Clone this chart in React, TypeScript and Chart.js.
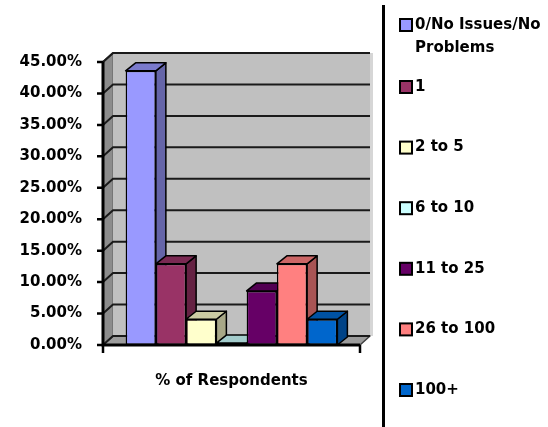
import React, { useEffect, useRef } from 'react';
import { Chart, registerables } from 'chart.js';

Chart.register(...registerables);

const categories = ['% of Respondents'];
const seriesNames = ['0/No Issues/No Problems', '1', '2 to 5', '6 to 10', '11 to 25', '26 to 100', '100+'];
const seriesValues = [43.6, 12.9, 4.1, 0.3, 8.6, 12.9, 4.1];
const seriesColors = ['#9999FF', '#993366', '#FFFFCC', '#CCFFFF', '#660066', '#FF8080', '#0066CC'];
const yTicks = [0, 5, 10, 15, 20, 25, 30, 35, 40, 45];

const FONT_FAMILY = '"DejaVu Sans", Verdana, sans-serif';
const BAR_DX = 10;
const BAR_DY = -8;
const WALL_DX = 10;
const WALL_DY = -9;

function shade(hex: string, f: number) {
  const n = parseInt(hex.slice(1), 16);
  const r = Math.round(((n >> 16) & 255) * f);
  const g = Math.round(((n >> 8) & 255) * f);
  const b = Math.round((n & 255) * f);
  return `rgb(${r},${g},${b})`;
}

function poly(ctx: CanvasRenderingContext2D, pts: number[][], fill: string | null, stroke: string | null, lw = 1) {
  ctx.beginPath();
  ctx.moveTo(pts[0][0], pts[0][1]);
  for (let i = 1; i < pts.length; i++) ctx.lineTo(pts[i][0], pts[i][1]);
  ctx.closePath();
  if (fill) {
    ctx.fillStyle = fill;
    ctx.fill();
  }
  if (stroke) {
    ctx.strokeStyle = stroke;
    ctx.lineWidth = lw;
    ctx.lineJoin = 'round';
    ctx.stroke();
  }
}

function wrapText(ctx: CanvasRenderingContext2D, text: string, maxW: number) {
  const words = text.split(' ');
  const lines: string[] = [];
  let cur = '';
  words.forEach((w) => {
    const test = cur ? cur + ' ' + w : w;
    if (ctx.measureText(test).width > maxW && cur) {
      lines.push(cur);
      cur = w;
    } else cur = test;
  });
  if (cur) lines.push(cur);
  return lines;
}

const threeD = {
  id: 'threeD',
  beforeDatasetsDraw(chart: any) {
    const { ctx, chartArea: a, scales } = chart;
    const y = scales.y;
    ctx.save();
    // side wall
    poly(ctx, [[a.left, a.bottom], [a.left, a.top], [a.left + WALL_DX, a.top + WALL_DY], [a.left + WALL_DX, a.bottom + WALL_DY]], '#8c8c8c', '#606060', 1);
    // back wall
    poly(ctx, [[a.left + WALL_DX, a.top + WALL_DY], [a.right + WALL_DX, a.top + WALL_DY], [a.right + WALL_DX, a.bottom + WALL_DY], [a.left + WALL_DX, a.bottom + WALL_DY]], '#c0c0c0', null);
    // right edge strip
    ctx.fillStyle = '#d6d6d6';
    ctx.fillRect(a.right + WALL_DX, a.top + WALL_DY, 3, a.bottom - a.top);
    // floor
    poly(ctx, [[a.left, a.bottom], [a.right, a.bottom], [a.right + WALL_DX, a.bottom + WALL_DY], [a.left + WALL_DX, a.bottom + WALL_DY]], '#9c9c9c', '#404040', 1.5);
    // wall top edge
    ctx.strokeStyle = '#505050';
    ctx.lineWidth = 2;
    ctx.beginPath();
    ctx.moveTo(a.left, a.top);
    ctx.lineTo(a.left + WALL_DX, a.top + WALL_DY);
    ctx.lineTo(a.right + WALL_DX, a.top + WALL_DY);
    ctx.stroke();
    // gridlines
    ctx.strokeStyle = '#1a1a1a';
    ctx.lineWidth = 2;
    yTicks.forEach((v) => {
      const py = y.getPixelForValue(v);
      ctx.beginPath();
      ctx.moveTo(a.left, py);
      ctx.lineTo(a.left + WALL_DX, py + WALL_DY);
      ctx.lineTo(a.right + WALL_DX, py + WALL_DY);
      ctx.stroke();
    });
    // bar sides and tops
    chart.data.datasets.forEach((ds: any, i: number) => {
      const meta = chart.getDatasetMeta(i);
      const col = seriesColors[i];
      meta.data.forEach((el: any) => {
        const p = el.getProps(['x', 'y', 'base', 'width'], true);
        const l = p.x - p.width / 2;
        const r = p.x + p.width / 2;
        const t = p.y;
        const b = p.base;
        poly(ctx, [[r, t], [r + BAR_DX, t + BAR_DY], [r + BAR_DX, b + BAR_DY], [r, b]], shade(col, 0.66), '#000', 1.5);
        poly(ctx, [[l, t], [r, t], [r + BAR_DX, t + BAR_DY], [l + BAR_DX, t + BAR_DY]], shade(col, 0.8), '#000', 1.5);
      });
    });
    ctx.restore();
  },
  afterDatasetsDraw(chart: any) {
    const { ctx, chartArea: a, scales } = chart;
    const y = scales.y;
    ctx.save();
    ctx.strokeStyle = '#000';
    ctx.lineWidth = 3;
    ctx.beginPath();
    ctx.moveTo(a.left, a.top);
    ctx.lineTo(a.left, a.bottom + 1);
    ctx.moveTo(a.left - 1.5, a.bottom);
    ctx.lineTo(a.right, a.bottom);
    ctx.stroke();
    ctx.lineWidth = 2.5;
    ctx.beginPath();
    yTicks.forEach((v) => {
      const py = y.getPixelForValue(v);
      ctx.moveTo(a.left - 6, py);
      ctx.lineTo(a.left, py);
    });
    ctx.moveTo(a.left, a.bottom);
    ctx.lineTo(a.left, a.bottom + 8);
    ctx.moveTo(a.right, a.bottom);
    ctx.lineTo(a.right, a.bottom + 8);
    ctx.stroke();
    ctx.restore();
  },
  afterDraw(chart: any) {
    const { ctx } = chart;
    ctx.save();
    // separator line
    ctx.strokeStyle = '#000';
    ctx.lineWidth = 3;
    ctx.beginPath();
    ctx.moveTo(383.5, 5);
    ctx.lineTo(383.5, 427);
    ctx.stroke();
    // legend
    ctx.font = `bold 15px ${FONT_FAMILY}`;
    ctx.textBaseline = 'middle';
    ctx.textAlign = 'left';
    chart.data.datasets.forEach((ds: any, i: number) => {
      const firstY = i === 0 ? 25 : 87 + (i - 1) * 60.6;
      ctx.fillStyle = seriesColors[i];
      ctx.fillRect(400, firstY - 6, 12, 12);
      ctx.strokeStyle = '#000';
      ctx.lineWidth = 2;
      ctx.strokeRect(400, firstY - 6, 12, 12);
      ctx.fillStyle = '#000';
      const lines = wrapText(ctx, ds.label, 128);
      lines.forEach((ln, k) => ctx.fillText(ln, 415, firstY + k * 23));
    });
    ctx.restore();
  },
};

export default function App() {
  const ref = useRef<HTMLCanvasElement>(null);
  useEffect(() => {
    if (!ref.current) return;
    const font = { family: FONT_FAMILY, size: 15, weight: 'bold' as const };
    const chart = new Chart(ref.current, {
      type: 'bar',
      data: {
        labels: categories,
        datasets: seriesNames.map((name, i) => ({
          label: name,
          data: [seriesValues[i]],
          backgroundColor: seriesColors[i],
          borderColor: '#000',
          borderWidth: 1.5,
          borderSkipped: false,
        })),
      },
      options: {
        responsive: false,
        animation: false,
        devicePixelRatio: 1,
        layout: { padding: { top: 62, right: 188, left: 0, bottom: 0 } },
        datasets: { bar: { categoryPercentage: 0.824, barPercentage: 1 } },
        plugins: { legend: { display: false }, tooltip: { enabled: false }, title: { display: false } },
        scales: {
          x: {
            grid: { display: false, drawTicks: false },
            border: { display: false },
            ticks: { color: '#000', font, padding: 27 },
            afterFit(s: any) {
              s.height = 82;
            },
          },
          y: {
            min: 0,
            max: 45,
            grid: { display: false, drawTicks: false },
            border: { display: false },
            ticks: {
              color: '#000',
              font,
              padding: 21,
              callback: (v: any) => Number(v).toFixed(2) + '%',
            },
            afterBuildTicks(s: any) {
              s.ticks = yTicks.map((v) => ({ value: v }));
            },
            afterFit(s: any) {
              s.width = 103;
            },
          },
        },
      },
      plugins: [threeD],
    });
    return () => chart.destroy();
  }, []);
  return (
    <div style={{ position: 'fixed', left: 0, top: 0, width: 548, height: 427, background: '#fff' }}>
      <canvas ref={ref} width={548} height={427} style={{ width: 548, height: 427, display: 'block' }} />
    </div>
  );
}
